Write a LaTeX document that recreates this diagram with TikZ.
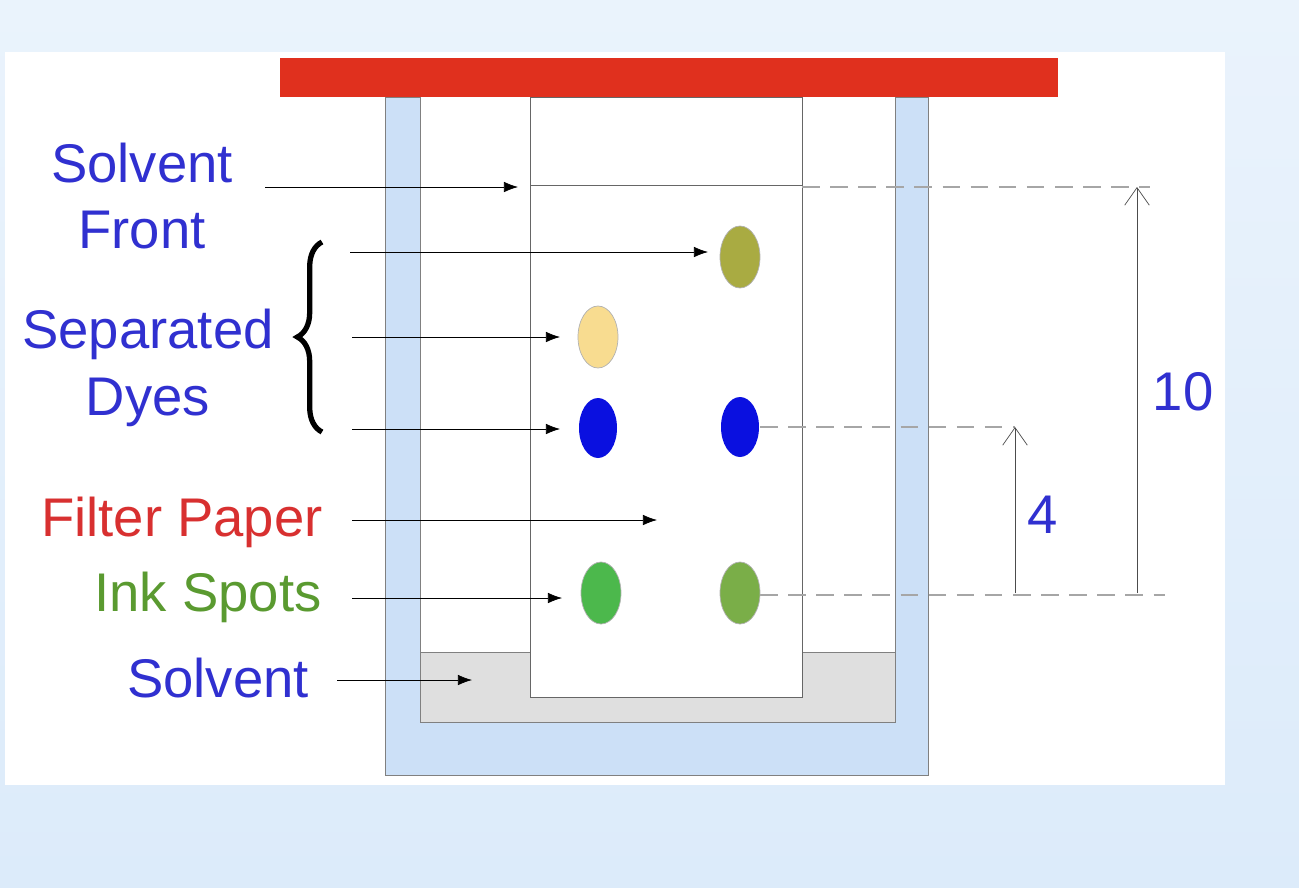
\documentclass[tikz,border=0pt]{standalone}
\usepackage{fontspec}
\setmainfont{Liberation Sans}
\usetikzlibrary{arrows.meta,decorations.pathreplacing}
\definecolor{bgblue}{HTML}{DCEBFA}
\definecolor{beaker}{HTML}{CCE0F7}
\definecolor{lid}{HTML}{E0301E}
\definecolor{txtblue}{HTML}{3030D0}
\definecolor{txtred}{HTML}{D83030}
\definecolor{txtgreen}{HTML}{5A9A30}
\definecolor{sp1}{HTML}{A9AB42}
\definecolor{sp2}{HTML}{F8DC90}
\definecolor{sp3}{HTML}{0A10E0}
\definecolor{sp4}{HTML}{4CB84C}
\definecolor{sp5}{HTML}{7AAE48}
\tikzset{px/.style={x=0.02cm,y=-0.02cm},
 lbl/.style={font=\fontsize{31}{38}\selectfont,align=center},
 ptr/.style={-{Latex[length=8pt,width=6pt]},thin},
 dim/.style={-{Straight Barb[length=10pt,width=14pt]},gray!60!black,thin},
 dsh/.style={dashed,dash pattern=on 10pt off 6pt,gray!70,thick}}
\begin{document}
\begin{tikzpicture}[px]
\fill[top color=bgblue!60,bottom color=bgblue] (0,0) rectangle (1299,887);
\useasboundingbox (0,0) rectangle (1299,887);
\fill[white] (5,52) rectangle (1225,785);
\draw[gray,fill=beaker] (385,97) rectangle (928,775);
\fill[white] (420,97) rectangle (895,722);
\draw[gray] (420,97) -- (420,722) -- (895,722) -- (895,97);
\draw[gray,fill=gray!25] (420,652) rectangle (895,722);
\draw[gray!80!black,fill=white] (530,97) rectangle (802,697);
\draw[gray!80!black] (530,185) -- (802,185);
\fill[lid] (280,58) rectangle (1058,97);
% dims
\draw[dsh] (802,187) -- (1150,187);
\draw[dsh] (760,427) -- (1015,427);
\draw[dsh] (760,595) -- (1165,595);
\coordinate (b10) at (1137,593); \coordinate (t10) at (1137,187);
\draw[dim] (b10) -- (t10);
\coordinate (b4) at (1015,593); \coordinate (t4) at (1015,427);
\draw[dim] (b4) -- (t4);
\node[lbl,text=txtblue] (n10) at (1183,392) {10};
\node[lbl,text=txtblue] (n4) at (1043,515) {4};
% spots
\fill[sp1,draw=gray!60] (740,257) ellipse (20 and 31);
\fill[sp2,draw=gray!60] (598,337) ellipse (20 and 31);
\fill[sp3] (598,428) ellipse (19 and 30);
\fill[sp3] (740,427) ellipse (19 and 30);
\fill[sp4,draw=gray!60] (601,593) ellipse (20 and 31);
\fill[sp5,draw=gray!60] (740,593) ellipse (20 and 31);
% labels
\node[lbl,text=txtblue] (sf) at (142,196) {Solvent\\Front};
\node[lbl,text=txtblue] (sd) at (148,368) {Separated\\Dyes};
\node[lbl,text=txtred] (fp) at (182,522) {Filter Paper};
\node[lbl,text=txtgreen] (is) at (208,597) {Ink Spots};
\node[lbl,text=txtblue] (so) at (218,678) {Solvent};
\draw[decorate,decoration={brace,amplitude=14pt},line width=3pt] (322,432) -- (322,242);
% arrows
\draw[ptr] (265,187) -- (518,187);
\draw[ptr] (350,252) -- (708,252);
\draw[ptr] (352,337) -- (560,337);
\draw[ptr] (352,429) -- (560,429);
\draw[ptr] (352,520) -- (657,520);
\draw[ptr] (352,598) -- (562,598);
\draw[ptr] (337,680) -- (472,680);
\end{tikzpicture}
\end{document}
